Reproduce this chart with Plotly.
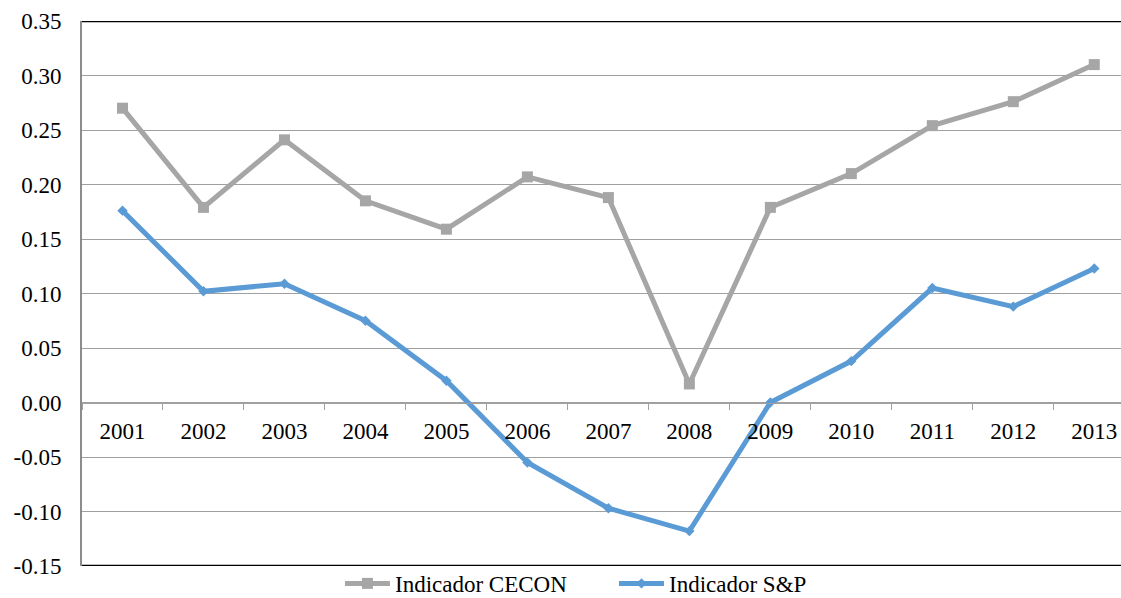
import plotly.graph_objects as go

years = ["2001", "2002", "2003", "2004", "2005", "2006", "2007",
         "2008", "2009", "2010", "2011", "2012", "2013"]
cecon = [0.270, 0.179, 0.241, 0.185, 0.159, 0.207, 0.188,
         0.017, 0.179, 0.210, 0.254, 0.276, 0.310]
snp = [0.176, 0.102, 0.109, 0.075, 0.020, -0.055, -0.097,
       -0.118, 0.000, 0.038, 0.105, 0.088, 0.123]
y_ticks = [-0.15, -0.10, -0.05, 0.00, 0.05, 0.10, 0.15, 0.20, 0.25, 0.30, 0.35]

FONT = "Liberation Serif"
FS = 23
Y_MIN, Y_MAX = -0.15, 0.35

fig = go.Figure()
fig.add_trace(go.Scatter(
    x=years, y=cecon, name="Indicador CECON", mode="lines+markers",
    line=dict(color="#A6A6A6", width=5),
    marker=dict(symbol="square", size=11, color="#A6A6A6"),
))
fig.add_trace(go.Scatter(
    x=years, y=snp, name="Indicador S&P", mode="lines+markers",
    line=dict(color="#5B9BD5", width=5),
    marker=dict(symbol="diamond", size=8, color="#5B9BD5"),
))

# horizontal category axis crossing at zero
zero_pos = (0 - Y_MIN) / (Y_MAX - Y_MIN)

fig.update_layout(
    width=1121, height=598,
    margin=dict(l=82, r=0, t=21, b=32, autoexpand=False),
    paper_bgcolor="white", plot_bgcolor="white",
    font=dict(family=FONT, size=FS, color="black"),
    showlegend=True,
    legend=dict(orientation="h", x=0.512, xanchor="center", y=-0.032, yanchor="middle",
                font=dict(family=FONT, size=FS), itemwidth=45,
                entrywidth=214, entrywidthmode="pixels", tracegroupgap=0,
                bgcolor="rgba(0,0,0,0)"),
    xaxis=dict(
        type="category", range=[-0.5, 12.33],
        anchor="free", position=zero_pos,
        showline=True, linecolor="#A0A0A0", linewidth=1,
        ticks="outside", tickson="boundaries", ticklen=6, tickcolor="#A0A0A0",
        ticklabelstandoff=8,
        showgrid=False, zeroline=False,
        tickfont=dict(family=FONT, size=FS),
    ),
    yaxis=dict(
        range=[Y_MIN, Y_MAX], tickvals=y_ticks,
        ticktext=[f"{v:.2f}" for v in y_ticks],
        showgrid=True, gridcolor="#A0A0A0", gridwidth=1,
        zeroline=False,
        showline=True, linecolor="#8C8C8C", linewidth=2,
        ticks="", ticklabelstandoff=14,
        tickfont=dict(family=FONT, size=FS),
    ),
)

# dark frame lines at the top and bottom of the plot area
for yv in (Y_MIN, Y_MAX):
    fig.add_shape(type="line", xref="paper", yref="y", x0=0, x1=1, y0=yv, y1=yv,
                  line=dict(color="black", width=2.5), layer="above")

fig.write_html("out.html")
